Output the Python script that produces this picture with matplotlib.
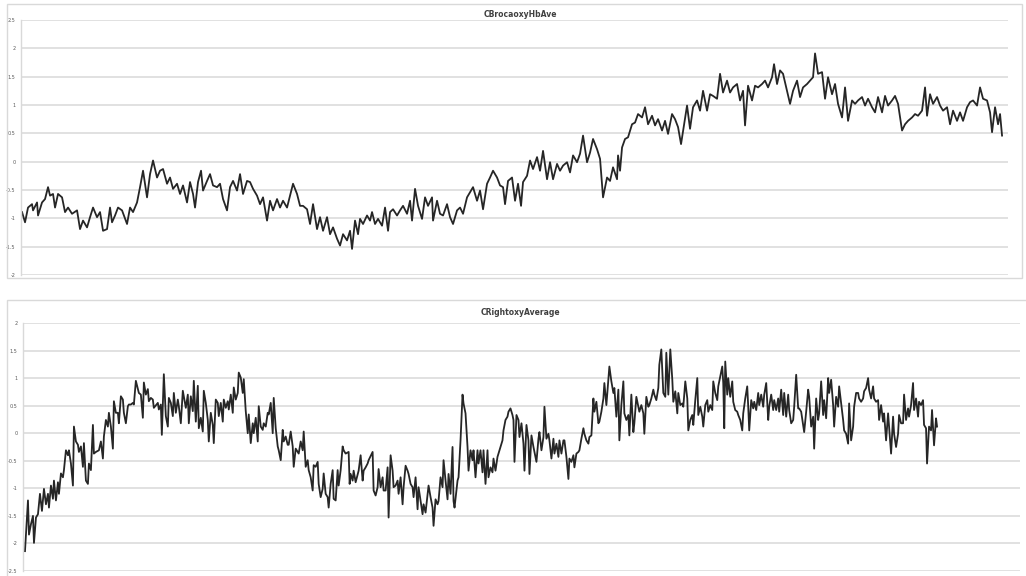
import matplotlib
matplotlib.use("Agg")
import matplotlib.pyplot as plt
from matplotlib.patches import Rectangle

# sample index / value pairs for the two averaged channels
broca_t = [
    1, 4, 7, 11, 12, 16, 17, 21, 24, 27,
    29, 32, 34, 37, 41, 44, 47, 51, 56, 59,
    62, 66, 69, 72, 76, 79, 82, 86, 89, 91,
    94, 97, 101, 106, 109, 112, 116, 119, 122, 126,
    129, 132, 136, 139, 142, 146, 149, 152, 156, 159,
    162, 166, 169, 172, 174, 177, 180, 182, 186, 189,
    192, 196, 199, 202, 206, 209, 212, 216, 219, 222,
    226, 229, 232, 236, 239, 242, 246, 249, 252, 256,
    259, 262, 266, 269, 272, 276, 279, 282, 286, 289,
    292, 296, 299, 302, 306, 309, 312, 316, 319, 322,
    326, 329, 331, 334,
    337, 339, 342, 346, 349, 351, 354, 357, 361, 364,
    367, 369, 372, 376, 379, 382, 386, 389, 391, 394,
    397, 401, 404, 407, 411, 412, 416, 419, 422, 426,
    429, 432, 436, 439, 442, 446, 449, 452, 456, 459,
    462, 466, 469, 472, 476, 479, 482, 484, 487, 491,
    494, 497, 500, 502, 506, 509, 512, 516, 519, 522,
    526, 529, 532, 536, 539, 542, 546, 549, 552, 556,
    559, 562, 566, 569, 572, 576, 579, 582, 586, 589,
    592, 596, 597, 599, 601, 604, 607, 611, 614, 617,
    621, 624, 627, 631, 634, 637, 641, 644, 647, 651,
    654, 657, 660,
    666, 669, 672, 676, 679, 682, 686, 689, 692, 696,
    699, 702, 706, 709, 712, 716, 719, 722, 724, 727,
    731, 734, 737, 741, 744, 747, 751, 753, 756, 759,
    762, 766, 769, 772, 776, 779, 782, 786, 789, 792,
    794, 797, 801, 804, 807, 811, 814, 817, 821, 824,
    827, 831, 834, 837, 841, 844, 847, 851, 854, 857,
    861, 864, 867, 871, 874, 877, 881, 884, 887, 891,
    894, 897, 901, 904, 906, 909, 912, 916, 919, 922,
    926, 929, 932, 936, 939, 942, 946, 949, 952, 956,
    959, 962, 966, 969, 971, 974, 977, 979, 981,
]
broca_v = [
    -0.89, -1.07, -0.81, -0.75, -0.86, -0.72, -0.95, -0.72, -0.66, -0.45,
    -0.60, -0.57, -0.81, -0.57, -0.63, -0.89, -0.81, -0.92, -0.86, -1.19,
    -1.04, -1.16, -0.98, -0.81, -0.98, -0.89, -1.22, -1.19, -0.81, -1.07,
    -0.95, -0.81, -0.86, -1.10, -0.81, -0.89, -0.72, -0.45, -0.16, -0.63,
    -0.22, 0.02, -0.28, -0.16, -0.13, -0.39, -0.28, -0.48, -0.39, -0.57,
    -0.42, -0.72, -0.36, -0.57, -0.81, -0.36, -0.16, -0.51, -0.34, -0.22,
    -0.42, -0.45, -0.39, -0.66, -0.86, -0.45, -0.34, -0.51, -0.22, -0.57,
    -0.34, -0.36, -0.48, -0.60, -0.75, -0.63, -1.04, -0.69, -0.86, -0.66,
    -0.81, -0.69, -0.81, -0.60, -0.39, -0.57, -0.78, -0.78, -0.84, -1.10,
    -0.75, -1.19, -0.98, -1.22, -0.98, -1.28, -1.16, -1.36, -1.48, -1.28,
    -1.39, -1.22, -1.54, -1.04,
    -1.28, -1.01, -1.10, -0.95, -1.04, -0.89, -1.10, -1.01, -1.13, -0.81,
    -1.22, -0.89, -0.84, -0.95, -0.86, -0.78, -0.92, -0.69, -1.04, -0.48,
    -0.78, -1.01, -0.63, -0.78, -0.63, -1.04, -0.69, -0.92, -0.95, -0.75,
    -0.98, -1.10, -0.86, -0.81, -0.92, -0.63, -0.54, -0.45, -0.69, -0.51,
    -0.84, -0.39, -0.28, -0.16, -0.28, -0.42, -0.45, -0.75, -0.34, -0.28,
    -0.69, -0.39, -0.78, -0.36, -0.25, 0.02, -0.13, 0.08, -0.16, 0.19,
    -0.31, -0.01, -0.31, -0.04, -0.16, -0.07, -0.01, -0.19, 0.11, -0.01,
    0.14, 0.46, -0.01, 0.16, 0.40, 0.22, 0.05, -0.63, -0.28, -0.34,
    -0.10, -0.31, 0.11, -0.16, 0.25, 0.40, 0.43, 0.66, 0.69, 0.84,
    0.78, 0.96, 0.66, 0.81, 0.64, 0.75, 0.55, 0.72, 0.49, 0.84,
    0.75, 0.61, 0.31,
    0.99, 0.58, 0.96, 1.08, 0.90, 1.25, 0.90, 1.19, 1.16, 1.11,
    1.55, 1.22, 1.43, 1.22, 1.31, 1.37, 1.08, 1.25, 0.64, 1.34,
    1.08, 1.34, 1.31, 1.37, 1.43, 1.31, 1.49, 1.72, 1.37, 1.61,
    1.55, 1.25, 1.02, 1.25, 1.43, 1.14, 1.31, 1.37, 1.43, 1.49,
    1.91, 1.55, 1.58, 1.11, 1.49, 1.19, 1.37, 1.02, 0.78, 1.31,
    0.72, 1.08, 1.02, 1.08, 1.14, 0.99, 1.11, 0.96, 0.87, 1.14,
    0.87, 1.16, 0.99, 1.08, 1.16, 1.02, 0.55, 0.66, 0.72, 0.78,
    0.84, 0.81, 0.90, 1.31, 0.81, 1.19, 1.02, 1.14, 0.99, 0.90,
    0.96, 0.66, 0.90, 0.72, 0.87, 0.72, 0.96, 1.05, 1.08, 0.99,
    1.31, 1.11, 1.08, 0.87, 0.52, 0.96, 0.66, 0.84, 0.46,
]

right_t = [
    2, 5, 6, 8, 10, 11, 13, 15, 17, 19,
    21, 23, 25, 26, 28, 30, 31, 33, 35, 36,
    38, 40, 41, 43, 45, 46, 48, 50, 51, 53,
    55, 56, 58, 60, 61, 63, 65, 66, 68, 70,
    71, 73, 76, 78, 80, 81, 83, 85, 86, 88,
    90, 91, 93, 95, 96, 98, 100, 101, 103, 105,
    106, 108, 110, 111, 113, 115, 116, 118, 120, 121,
    123, 125, 126, 128, 130, 131, 135, 136, 138, 139,
    141, 143, 145, 146, 148, 150, 151, 153, 155, 156,
    158, 160, 161, 163, 165, 166, 168, 170, 171, 173,
    175, 176, 178, 180, 181, 183, 185, 186, 188, 190,
    191, 193, 195, 196, 198, 200, 201, 203, 205, 206,
    208, 210, 211, 213, 215, 216, 218, 220, 221, 223,
    225, 226, 228, 230, 231, 233, 235, 236, 238, 240,
    241, 243, 245, 246, 248, 250, 251, 253, 255, 256,
    258, 260, 261, 263, 265, 266, 268, 270, 271, 273,
    275, 276, 278, 280, 281, 283, 285, 286, 288, 290,
    291, 293, 295, 296, 298, 300, 301, 303, 305, 306,
    308, 310, 311, 313, 315, 316, 318, 320, 321,
    323, 326, 327, 328, 330, 331, 333, 336, 338, 340,
    341, 343, 345, 346, 350, 351, 353, 355, 356, 358,
    360, 361, 363, 365, 366, 368, 370, 371, 373, 375,
    376, 378, 380, 381, 383, 385, 386, 388, 390, 391,
    393, 395, 396, 398, 400, 401, 403, 406, 408, 410,
    411, 413, 415, 416, 418, 420, 421, 423, 425, 426,
    428, 430, 431, 432, 435, 436, 438, 440, 441, 443,
    445, 446, 448, 450, 451, 453, 455, 456, 458, 460,
    461, 463, 465, 466, 468, 470, 471, 473, 475, 476,
    478, 480, 481, 483, 485, 486, 488, 490, 491, 492,
    494, 496, 497, 499, 501, 502, 504, 506, 507, 509,
    511, 512, 514, 516, 517, 519, 521, 522, 524, 526,
    527, 529, 531, 532, 534, 536, 537, 539, 541, 542,
    544, 546, 547, 549, 551, 552, 554, 556, 557, 559,
    561, 562, 564, 566, 567, 569, 571, 572, 574, 576,
    577, 579, 581, 582, 584, 586, 587, 589, 591, 592,
    594, 596, 597, 599, 601, 602, 604, 606, 607, 609,
    611, 612, 614, 616, 617, 619, 621, 622, 624, 626,
    627, 629, 631, 632, 634, 636, 637, 639, 641, 643,
    644, 646, 648, 650, 651, 653, 655, 656, 658, 660,
    661, 663, 665, 666, 668, 670, 671, 673, 675, 676,
    678, 680, 681, 683, 685, 686, 688, 690, 691, 693,
    695, 696, 698, 700, 701, 702, 703, 705, 706, 708,
    710, 711, 713, 715, 716, 718, 720, 721, 723, 725,
    726, 727, 729, 731, 732, 734, 736, 737, 739, 741,
    742, 744, 746, 747, 749, 751, 752, 754, 756, 757,
    759, 761, 762, 764, 766, 767, 769, 771, 772, 774,
    776, 777, 779, 781, 782, 784, 786, 787, 789, 791,
    792, 794, 796, 797, 799, 801, 802, 804, 806, 807,
    809, 811, 812, 814, 816, 817, 819, 821, 822, 824,
    826, 827, 829, 831, 832, 834, 836, 837, 839, 841,
    842, 844, 846, 847, 849, 851, 852, 854, 856, 857,
    859, 861, 862, 864, 866, 867, 869, 871, 872, 874,
    876, 877, 879, 881, 882, 884, 886, 887, 889, 891,
    892, 894, 896, 897, 899, 901, 902, 904, 905, 907,
    909, 910, 912, 914, 915,
]
right_v = [
    -2.14, -1.22, -1.84, -1.65, -1.50, -1.99, -1.53, -1.47, -1.10, -1.41,
    -1.01, -1.29, -1.10, -1.35, -0.95, -1.19, -0.86, -1.22, -0.89, -1.10,
    -0.73, -0.80, -0.67, -0.31, -0.40, -0.31, -0.55, -0.95, 0.12, -0.15,
    -0.21, -0.34, -0.24, -0.61, -0.18, -0.86, -0.92, -0.55, -0.67, 0.15,
    -0.37, -0.34, -0.31, -0.15, -0.46, -0.06, 0.24, 0.12, 0.37, 0.12,
    -0.28, 0.58, 0.37, 0.37, 0.18, 0.67, 0.61, 0.37, 0.18, 0.49,
    0.52, 0.52, 0.55, 0.52, 0.95, 0.80, 0.73, 0.70, 0.28, 0.92,
    0.70, 0.80, 0.58, 0.64, 0.61, 0.46, 0.55, 0.43, 0.52, -0.03,
    1.07, 0.31, 0.12, 0.64, 0.55, 0.31, 0.73, 0.37, 0.61, 0.49,
    0.18, 0.77, 0.67, 0.46, 0.70, 0.18, 0.67, 0.40, 0.95, 0.21,
    0.86, 0.09, 0.28, 0.03, 0.77, 0.55, 0.24, -0.15, 0.37, 0.15,
    -0.18, 0.61, 0.55, 0.31, 0.55, 0.21, 0.61, 0.46, 0.58, 0.43,
    0.70, 0.37, 0.83, 0.61, 0.73, 1.10, 1.01, 0.73, 0.98, 0.40,
    0.00, 0.34, -0.18, 0.18, 0.00, 0.28, -0.15, 0.49, 0.12, 0.06,
    0.18, 0.12, 0.37, 0.34, 0.55, 0.00, 0.64, 0.09, -0.24, -0.31,
    -0.49, 0.06, -0.15, -0.06, -0.21, -0.21, 0.03, -0.24, -0.61, -0.28,
    -0.34, -0.37, -0.15, -0.31, 0.03, -0.61, -0.49, -0.67, -0.80, -1.04,
    -0.58, -0.61, -0.52, -0.92, -1.16, -1.01, -0.73, -1.10, -1.16, -1.35,
    -0.92, -0.67, -1.19, -1.22, -0.67, -0.95, -0.67, -0.24, -0.31,
    -0.37, -0.34, -0.92, -0.74, -0.86, -0.68, -0.89, -0.68, -0.40, -0.86,
    -0.68, -0.62, -0.55, -0.49, -0.34, -1.04, -1.13, -0.98, -0.65, -0.98,
    -0.80, -1.04, -1.04, -0.62, -1.53, -0.40, -0.68, -0.98, -0.95, -0.86,
    -1.10, -0.80, -1.29, -0.98, -0.59, -0.68, -0.74, -0.92, -0.98, -1.16,
    -0.80, -1.38, -0.98, -1.23, -1.47, -1.29, -1.44, -0.95, -1.16, -1.35,
    -1.68, -1.20, -1.29, -1.23, -0.80, -0.98, -0.49, -0.86, -1.20, -0.74,
    -1.10, -0.25, -1.23, -1.35, -0.86, -0.80, -0.13, 0.70, 0.54, 0.36,
    -0.25, -0.68, -0.31, -0.49, -0.31, -0.80, -0.31, -0.55, -0.31, -0.71,
    -0.31, -0.92, -0.31, -0.80, -0.62, -0.71, -0.46, -0.68, -0.43, -0.37,
    -0.25, -0.13, 0.05, 0.24, 0.30, 0.39, 0.45, 0.33, 0.24, -0.52,
    0.33, 0.24, -0.07, 0.18, -0.19, -0.68, 0.15, -0.13, -0.74, -0.04,
    -0.25, -0.34, -0.52, -0.10, 0.02, -0.31, -0.07, 0.48, -0.10, -0.01,
    -0.13, -0.46, -0.10, -0.37, -0.19, -0.43, -0.13, -0.37, -0.13, -0.13,
    -0.43, -0.83, -0.46, -0.52, -0.40, -0.62, -0.37, -0.34, -0.31, -0.10,
    0.09, -0.01, -0.13, -0.19, -0.07, -0.04, 0.63, 0.39, 0.57, 0.18,
    0.21, 0.39, 0.63, 0.91, 0.51, 0.97, 1.21, 0.94, 0.73, 0.82,
    0.30, 0.79, -0.13, 0.51, 0.94, 0.36, 0.24, 0.33, -0.04, 0.70,
    0.02, 0.18, 0.66, 0.48, 0.39, 0.51, 0.36, -0.01, 0.66, 0.48,
    0.51, 0.63, 0.79, 0.70, 0.60, 0.82, 1.24, 1.52, 0.73, 0.66,
    1.46, 0.70, 1.52, 0.97, 0.57, 0.76, 0.36, 0.73, 0.51, 0.54,
    0.48, 0.94, 0.63, 0.05, 0.24, 0.33, 0.15, 0.60, 1.00, 0.33,
    0.48, 0.30, 0.12, 0.51, 0.60, 0.39, 0.51, 0.42, 0.94, 0.73,
    0.60, 0.85, 1.03, 1.21, 0.91, 0.09, 1.30, 0.70, 1.00, 0.66,
    0.94, 0.57, 0.42, 0.39, 0.33, 0.24, 0.05, 0.36, 0.63, 0.85,
    0.48, 0.05, 0.60, 0.45, 0.57, 0.42, 0.73, 0.51, 0.70, 0.48,
    0.70, 0.91, 0.24, 0.48, 0.70, 0.42, 0.60, 0.42, 0.63, 0.39,
    0.79, 0.33, 0.73, 0.30, 0.70, 0.42, 0.18, 0.24, 0.48, 1.06,
    0.45, 0.45, 0.39, 0.15, 0.02, 0.39, 0.79, 0.66, 0.12, 0.30,
    -0.28, 0.63, 0.24, 0.36, 0.94, 0.33, 0.60, 0.27, 1.00, 0.73,
    0.97, 0.51, 0.12, 0.66, 0.48, 0.85, 0.54, 0.24, 0.05, -0.01,
    -0.19, 0.54, -0.13, 0.12, 0.48, 0.73, 0.73, 0.63, 0.57, 0.63,
    0.76, 0.82, 1.00, 0.79, 0.63, 0.85, 0.63, 0.57, 0.60, 0.24,
    0.51, 0.21, 0.36, -0.13, 0.36, 0.12, -0.37, 0.30, -0.01, -0.25,
    -0.01, 0.33, 0.18, 0.18, 0.70, 0.24, 0.45, 0.30, 0.51, 0.91,
    0.42, 0.63, 0.30, 0.57, 0.51, 0.60, 0.15, 0.09, -0.55, 0.12,
    0.05, 0.42, -0.22, 0.27, 0.12,
]

broca_ticks = [-2, -1.5, -1, -0.5, 0, 0.5, 1, 1.5, 2, 2.5]
right_ticks = [-2.5, -2, -1.5, -1, -0.5, 0, 0.5, 1, 1.5, 2]

GRID = "#d9d9d9"
LINE = "#262626"

fig = plt.figure(figsize=(10.26, 5.76), dpi=100)
fig.patch.set_facecolor("white")

# chart frames
fig.add_artist(Rectangle((0.007, 0.517), 0.989, 0.476, transform=fig.transFigure,
                         fill=False, edgecolor=GRID, lw=1.0))
fig.add_artist(Rectangle((0.007, -0.01), 0.995, 0.49, transform=fig.transFigure,
                         fill=False, edgecolor=GRID, lw=1.0))


def style_axis(ax, ticks, xmax):
    ax.set_xlim(0, xmax)
    ax.set_ylim(ticks[0], ticks[-1])
    ax.set_yticks(ticks)
    ax.set_yticklabels([f"{t:g}" for t in ticks])
    ax.set_xticks([])
    ax.tick_params(axis="y", length=0, labelsize=3.5, labelcolor="#595959", pad=4)
    ax.grid(axis="y", color=GRID, lw=1.1)
    ax.set_axisbelow(True)
    for side in ("top", "right", "bottom"):
        ax.spines[side].set_visible(False)
    ax.spines["left"].set_color(GRID)
    ax.spines["left"].set_linewidth(1.0)


ax1 = fig.add_axes([0.0205, 0.5226, 0.962, 0.4427])
ax1.plot(broca_t, broca_v, color=LINE, lw=1.3)
style_axis(ax1, broca_ticks, 987)
fig.text(0.507, 0.975, "CBrocaoxyHbAve", ha="center", va="center",
         fontsize=5.5, fontweight="bold", color="#404040")

ax2 = fig.add_axes([0.0224, 0.0087, 0.9717, 0.4306])
ax2.plot(right_t, right_v, color=LINE, lw=1.3)
style_axis(ax2, right_ticks, 998)
fig.text(0.507, 0.458, "CRightoxyAverage", ha="center", va="center",
         fontsize=5.5, fontweight="bold", color="#404040")

fig.savefig("out.png", dpi=100, facecolor="white")
